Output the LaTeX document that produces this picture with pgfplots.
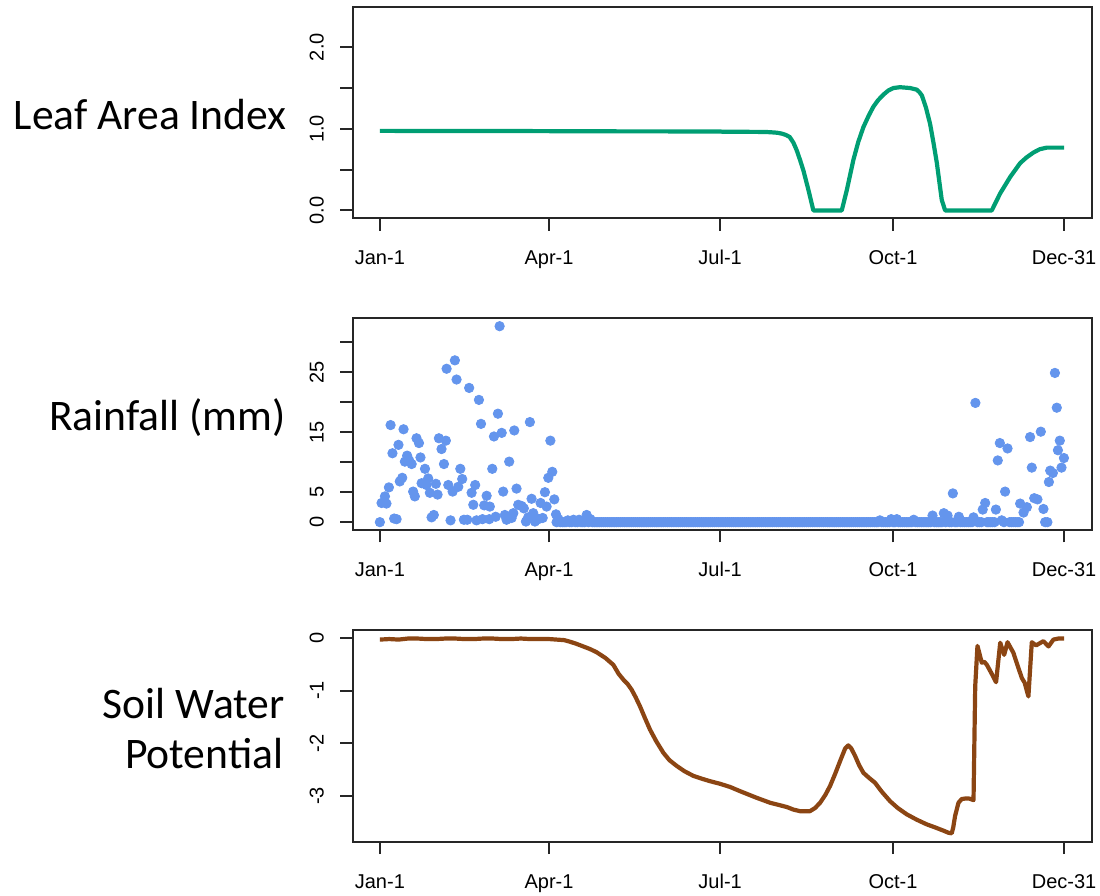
\documentclass[border=0pt]{standalone}
\usepackage{pgfplots}
\pgfplotsset{compat=1.18}
\usepackage{fontspec}
\setmainfont{Liberation Sans}
\newfontfamily\labfont{Carlito}
\definecolor{laigreen}{RGB}{0,158,115}
\definecolor{rainblue}{RGB}{100,149,237}
\definecolor{soilbrown}{RGB}{139,69,19}
\pgfplotsset{
 panel/.style={
  scale only axis, width=369.5pt, height=105.8pt,
  xmin=-14.56, xmax=378.56,
  xtick={0,90,181,273,364},
  xticklabels={Jan-1,Apr-1,Jul-1,Oct-1,Dec-31},
  xtick pos=bottom, ytick pos=left, tick align=outside,
  major tick length=6.2pt,
  axis line style={line width=1pt, black!85},
  every tick/.style={line width=1pt, black!85},
  tick label style={font=\fontsize{10pt}{12pt}\selectfont},
  xticklabel style={yshift=-6.3pt, text height=7.3pt, text depth=0pt},
  yticklabel style={rotate=90, anchor=south, inner ysep=8pt},
  anchor=south west, clip=false,
 }
}
\begin{document}
\begin{tikzpicture}
\useasboundingbox (0,0) rectangle (550pt,-448pt);
\tikzset{lab/.style={anchor=base east, inner sep=0pt, font=\labfont\fontsize{21.8pt}{25pt}\selectfont}}
\node[lab] at (143.5pt,-64.65pt) {Leaf Area Index};
\node[lab] at (143pt,-215pt) {Rainfall (mm)};
\node[lab] at (142.5pt,-359.15pt) {Soil Water};
\node[lab] at (141.8pt,-384.15pt) {Potential};

% Leaf Area Index
\begin{axis}[panel, at={(176.25pt,-109.15pt)},
  ymin=-0.096, ymax=2.496,
  ytick={0,0.5,1,1.5,2}, yticklabels={0.0,,1.0,,2.0}]
\addplot[color=laigreen, line width=2.1pt, line join=round] coordinates {
(0,0.975)(90,0.972)(91,0.970)(181,0.968)(182,0.965)(205,0.962)(210,0.955)(212,0.95)(214,0.94)(216,0.925)(218,0.90)(220,0.83)(221.7,0.74)(223.5,0.62)(225.3,0.49)(228,0.25)(230.6,0)(245.7,0)(248.4,0.25)(251.9,0.62)(254.5,0.84)(257.2,1.02)(260,1.16)(262.5,1.27)(265,1.35)(267.9,1.42)(270.5,1.47)(273.2,1.50)(276.7,1.51)(282,1.50)(285.6,1.48)(287,1.45)(288.3,1.41)(290.5,1.26)(292.7,1.06)(294.5,0.83)(296.3,0.58)(298.9,0.13)(300.7,0)(325.5,0)(330,0.21)(335.3,0.41)(340.6,0.58)(344,0.65)(347.7,0.71)(351,0.75)(354.8,0.77)(364,0.77)
};
\end{axis}

% Rainfall
\begin{axis}[panel, at={(176.25pt,-265pt)},
  ymin=-1.31, ymax=34.0,
  ytick={0,5,10,15,20,25,30}, yticklabels={0,5,,15,,25,}]
\addplot[only marks, mark=*, mark size=2.35pt, color=rainblue, mark options={fill=rainblue, draw=rainblue}] coordinates {
(0,0)(0.9,3.2)(2.7,4.3)(3.5,3.1)(4.8,5.8)(5.7,16.2)(6.7,11.5)(7.6,0.6)(8.9,0.5)(9.9,12.9)
(10.6,6.8)(11.9,7.4)(12.6,15.5)(13.3,10.1)(14.5,11.1)(15.6,10.3)(16.9,9.7)(17.7,5.1)(18.6,4.3)(19.5,14.0)
(20.8,13.2)(21.6,10.8)(22.2,6.5)(24.0,8.9)(24.8,6.2)(25.7,7.3)(26.6,4.9)(27.5,0.8)(28.7,1.2)(29.8,6.4)
(30.7,4.6)(31.4,14.0)(32.8,12.2)(34.1,9.7)(35.1,13.6)(35.5,25.6)(36.4,6.2)(37.6,0.3)(38.7,5.1)(39.9,27.0)
(40.8,23.8)(41.7,5.9)(42.8,8.9)(43.8,7.2)(44.7,0.4)(46.5,0.4)(47.5,22.4)(48.8,4.9)(49.7,2.9)(50.7,6.2)
(51.4,0.3)(52.7,20.4)(53.8,16.4)(54.6,0.5)(55.5,2.8)(56.8,4.4)(58.2,0.5)(58.5,2.6)(59.8,8.9)(60.7,14.3)
(61.6,0.9)(62.8,18.1)(63.7,32.7)(64.8,14.9)(65.6,5.1)(66.5,1.2)(67.4,0.4)(68.8,10.1)(70.1,0.7)(71.0,1.5)
(71.5,15.3)(72.7,5.6)(73.6,2.9)(75.4,2.7)(76.6,2.3)(77.7,0.1)(78.9,0.8)(79.8,16.7)(80.7,3.9)(81.6,1.5)
(82.5,0.1)(84.3,0.5)(85.5,3.2)(86.6,0.7)(87.8,5.0)(88.7,2.6)(89.6,7.4)(90.7,13.6)(91.7,8.4)(92.8,3.8)
(93.7,1.3)
(94,0)(95,0.5)(96,0)(97,0)(98,0)(99,0)(100,0.3)(101,0)(102,0)(103,0.4)(104,0)(105,0)(106,0.4)(107,0)(108,0)(109,0)
(110,1.2)(111,0)(112,0.5)(113,0)(114,0)(115,0)(116,0)(117,0)(118,0)(119,0)
(120,0)(121,0)(122,0)(123,0)(124,0)(125,0)(126,0)(127,0)(128,0)(129,0)
(130,0)(131,0)(132,0)(133,0)(134,0)(135,0)(136,0)(137,0)(138,0)(139,0)
(140,0)(141,0)(142,0)(143,0)(144,0)(145,0)(146,0)(147,0)(148,0)(149,0)
(150,0)(151,0)(152,0)(153,0)(154,0)(155,0)(156,0)(157,0)(158,0)(159,0)
(160,0)(161,0)(162,0)(163,0)(164,0)(165,0)(166,0)(167,0)(168,0)(169,0)
(170,0)(171,0)(172,0)(173,0)(174,0)(175,0)(176,0)(177,0)(178,0)(179,0)
(180,0)(181,0)(182,0)(183,0)(184,0)(185,0)(186,0)(187,0)(188,0)(189,0)
(190,0)(191,0)(192,0)(193,0)(194,0)(195,0)(196,0)(197,0)(198,0)(199,0)
(200,0)(201,0)(202,0)(203,0)(204,0)(205,0)(206,0)(207,0)(208,0)(209,0)
(210,0)(211,0)(212,0)(213,0)(214,0)(215,0)(216,0)(217,0)(218,0)(219,0)
(220,0)(221,0)(222,0)(223,0)(224,0)(225,0)(226,0)(227,0)(228,0)(229,0)
(230,0)(231,0)(232,0)(233,0)(234,0)(235,0)(236,0)(237,0)(238,0)(239,0)
(240,0)(241,0)(242,0)(243,0)(244,0)(245,0)(246,0)(247,0)(248,0)(249,0)
(250,0)(251,0)(252,0)(253,0)(254,0)(255,0)(256,0)(257,0)(258,0)(259,0)
(260,0)(261,0)(262,0)(263,0)(264,0)(265,0)(266,0.3)(267,0)(268,0)(269,0)
(270,0)(271,0)(272,0.5)(273,0)(274,0)(275,0.5)(276,0)(277,0)(278,0)(279,0)
(280,0)(281,0)(282,0)(283,0)(284,0.4)(285,0)(286,0)(287,0)(288,0)(289,0)
(290,0)(291,0)(292,0)(293,0)(294,1.1)(295,0)(296,0)(297,0)(298,0)(299,0)
(300,1.5)(301,0)(302,1.1)(303,0)(304,0)(304.8,4.8)(306,0)(307,0)(308,0.9)(309,0)
(310,0)(311,0)(312,0)(313,0)(314,0)(315,0)(315.8,0.8)(316.8,19.9)(318,0)(319,0)
(320,0)(320.7,2.1)(322,3.2)(323,0)(324,0)(325,0)(326,0)(327,0)(327.7,2.1)(328.7,10.3)
(329.8,13.2)(330.8,0.3)(332,0)(332.6,5.1)(333.9,12.3)(335,0)(336,0)(337,0)(338,0)(339,0)
(340,0)(340.6,3.1)(342.4,1.6)(344.2,2.5)(345.9,14.2)(346.8,9.1)(348.1,4.0)(349.8,3.8)(351.6,15.1)(353,2.2)
(353.9,0)(355.1,0)(355.9,6.7)(356.6,8.6)(358,8.2)(359.1,24.9)(360.1,19.1)(360.7,12.0)(361.7,13.6)(362.6,9.1)
(363.9,10.7)
};
\end{axis}

% Soil Water Potential
\begin{axis}[panel, at={(176.25pt,-420.85pt)},
  ymin=-3.87, ymax=0.15,
  ytick={-3,-2,-1,0}, yticklabels={-3,-2,-1,0}]
\addplot[color=soilbrown, line width=2.1pt, line join=round] coordinates {
(0,-0.03)(5,-0.02)(10,-0.03)(15,-0.01)(20,-0.01)(25,-0.02)(30,-0.02)(35,-0.01)(40,-0.01)(45,-0.02)(50,-0.02)(55,-0.01)(60,-0.01)(65,-0.02)(70,-0.02)(75,-0.01)(80,-0.02)(85,-0.02)(90,-0.02)(94,-0.03)(98,-0.04)(101.1,-0.07)(104.5,-0.11)(108.2,-0.16)(111.8,-0.21)(115.3,-0.27)(120,-0.38)(124.2,-0.51)(127,-0.68)(129.5,-0.79)(131.7,-0.87)(133.9,-0.98)(136,-1.12)(138.4,-1.30)(141,-1.52)(143.7,-1.74)(147,-1.96)(150.8,-2.18)(154,-2.32)(157.9,-2.43)(162,-2.53)(166.8,-2.62)(171,-2.67)(175.6,-2.72)(181,-2.77)(186.3,-2.83)(191.6,-2.91)(200,-3.03)(207.6,-3.13)(212,-3.17)(216.4,-3.21)(220,-3.26)(223.5,-3.29)(228.8,-3.29)(231.5,-3.23)(234.2,-3.13)(237,-2.98)(239.5,-2.81)(242.2,-2.58)(244.8,-2.34)(247.5,-2.10)(249.2,-2.04)(250.8,-2.10)(252.8,-2.24)(255,-2.42)(257.2,-2.56)(260,-2.65)(263.4,-2.75)(267,-2.92)(271.4,-3.10)(275.5,-3.23)(280.3,-3.35)(285.5,-3.45)(290.9,-3.54)(295.5,-3.60)(299.8,-3.66)(302.5,-3.70)(304.2,-3.71)(305,-3.60)(306,-3.38)(307.8,-3.13)(309.5,-3.06)(311.3,-3.05)(313.5,-3.05)(315.8,-3.08)(316.7,-0.92)(317.9,-0.15)(320.2,-0.47)(321.5,-0.45)(322.9,-0.51)(325.5,-0.68)(327.8,-0.84)(330,-0.09)(332.1,-0.32)(333.9,-0.08)(337,-0.28)(339.5,-0.55)(341.5,-0.76)(343,-0.85)(345,-1.11)(346.8,-0.08)(349.1,-0.14)(351,-0.10)(353,-0.06)(355.7,-0.16)(358.3,-0.03)(361,-0.01)(364,-0.01)
};
\end{axis}
\end{tikzpicture}
\end{document}
